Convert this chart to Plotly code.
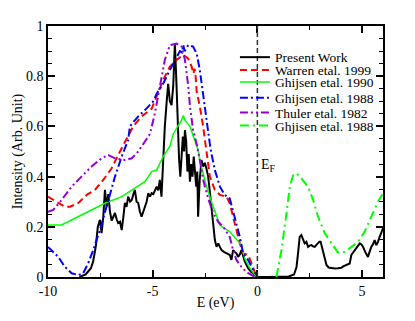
import plotly.graph_objects as go

# Present Work
pw_x = [-10, -8.5, -8.2, -7.95, -7.85, -7.72, -7.62, -7.52, -7.44, -7.36, -7.28, -7.2, -7.12, -7.04,
        -6.96, -6.88, -6.8, -6.72, -6.65, -6.56, -6.48, -6.4, -6.33, -6.25, -6.17, -6.08, -6.0,
        -5.92, -5.85, -5.77, -5.69, -5.61, -5.53, -5.45, -5.37, -5.29, -5.21, -5.13, -5.05, -4.97,
        -4.89, -4.81, -4.73, -4.66, -4.58, -4.52, -4.48, -4.42, -4.34, -4.26, -4.18, -4.1, -4.02,
        -3.94, -3.86, -3.8, -3.74, -3.68, -3.62, -3.56, -3.5, -3.46, -3.4, -3.34, -3.28, -3.22,
        -3.16, -3.1, -3.04, -2.98, -2.92, -2.87, -2.83, -2.76, -2.67, -2.59, -2.51, -2.43, -2.35,
        -2.27, -2.19, -2.11, -2.03, -1.95, -1.87, -1.79, -1.71, -1.6, -1.47, -1.32, -1.24, -1.16,
        -1.08, -1.0, -0.92, -0.84, -0.76, -0.68, -0.6, -0.44, -0.3, -0.2, -0.04, 0.5, 1.0, 1.5,
        1.75, 1.87, 1.95, 2.02, 2.1, 2.18, 2.26, 2.34, 2.42, 2.5, 2.58, 2.66, 2.74, 2.82, 2.9,
        2.96, 3.02, 3.08, 3.13, 3.2, 3.3, 3.4, 3.53, 3.7, 3.85, 4.01, 4.1, 4.25, 4.41, 4.49, 4.6,
        4.73, 4.81, 4.89, 4.97, 5.05, 5.15, 5.28, 5.36, 5.44, 5.52, 5.6, 5.68, 5.76, 5.84, 5.92, 6.0]
pw_y = [None, 0.0, 0.01, 0.035, 0.06, 0.12, 0.2, 0.228, 0.175, 0.24, 0.347, 0.28, 0.33, 0.26,
        0.225, 0.24, 0.255, 0.23, 0.215, 0.22, 0.187, 0.24, 0.295, 0.28, 0.32, 0.3, 0.307,
        0.33, 0.347, 0.3, 0.295, 0.26, 0.24, 0.26, 0.28, 0.3, 0.334, 0.32, 0.334, 0.33,
        0.345, 0.36, 0.345, 0.387, 0.32, 0.42, 0.52, 0.6, 0.69, 0.77, 0.70, 0.685, 0.76,
        0.93, 0.76, 0.6, 0.47, 0.40, 0.5, 0.56, 0.50, 0.585, 0.54, 0.42, 0.49, 0.38,
        0.45, 0.40, 0.48, 0.42, 0.36, 0.42, 0.24, 0.38, 0.466, 0.44, 0.455, 0.43, 0.40,
        0.34, 0.28, 0.2, 0.147, 0.12, 0.134, 0.12, 0.107, 0.1, 0.094, 0.088, 0.068, 0.107,
        0.1, 0.094, 0.08, 0.09, 0.107, 0.085, 0.061, 0.035, 0.02, 0.015, 0.0, 0.0, 0.0, 0.002,
        0.01, 0.04, 0.1, 0.16, 0.167, 0.15, 0.134, 0.14, 0.12, 0.125, 0.127, 0.122, 0.12, 0.128, 0.134,
        0.14, 0.14, 0.12, 0.094, 0.07, 0.048, 0.038, 0.035, 0.034, 0.035, 0.037, 0.042, 0.048, 0.054, 0.088, 0.1,
        0.114, 0.125, 0.134, 0.13, 0.12, 0.1, 0.08, 0.1, 0.12, 0.13, 0.147, 0.127, 0.14, 0.16, 0.175, 0.194]

# Warren etal. 1999
w99_x = [-10, -9.6, -9.19, -8.95, -8.55, -8.15, -7.76, -7.36, -6.96, -6.65, -6.25, -5.93, -5.53,
         -5.05, -4.81, -4.5, -4.18, -3.86, -3.54, -3.3, -3.14, -3.05, -3.0, -2.95, -2.9, -2.75,
         -2.59, -2.43, -2.27, -2.03, -1.79, -1.47, -1.32, -1.16, -1.0, -0.84, -0.68, -0.44,
         -0.28, -0.12, -0.04]
w99_y = [0.32, 0.3, 0.28, 0.28, 0.295, 0.327, 0.347, 0.387, 0.433, 0.486, 0.546, 0.6, 0.64,
         0.67, 0.72, 0.785, 0.838, 0.865, 0.885, 0.87, 0.838, 0.81, 0.83, 0.80, 0.74, 0.68,
         0.6, 0.5, 0.4, 0.347, 0.327, 0.32, 0.294, 0.24, 0.187, 0.134, 0.094, 0.088,
         0.055, 0.02, 0.0]

# Ghijsen etal. 1990
g90_x = [-10, -9.35, -8.71, -8.08, -7.28, -6.48, -5.37, -5.05, -4.81, -4.5, -4.18, -4.02,
         -3.78, -3.62, -3.54, -3.46, -3.22, -2.99, -2.83, -2.75, -2.59, -2.43, -2.11, -1.79,
         -1.32, -0.76, -0.6, -0.36, -0.12, 0.0]
g90_y = [0.207, 0.207, 0.234, 0.26, 0.294, 0.32, 0.38, 0.42, 0.426, 0.48, 0.52, 0.57,
         0.6, 0.625, 0.643, 0.625, 0.6, 0.546, 0.506, 0.466, 0.413, 0.36, 0.28, 0.207,
         0.18, 0.127, 0.074, 0.035, 0.008, 0.0]

# Ghijsen etal. 1988 (occupied)
g88_x = [-10, -9.51, -9.19, -8.87, -8.55, -8.32, -8.08, -7.84, -7.52, -7.2, -6.8, -6.48,
         -6.17, -6.09, -5.69, -5.37, -4.97, -4.81, -4.5, -4.18, -3.94, -3.7, -3.6, -3.54,
         -3.48, -3.3, -3.07, -2.9, -2.75, -2.59, -2.43, -2.27, -2.19, -2.03, -1.79, -1.56,
         -1.32, -1.08, -0.84, -0.68, -0.44, -0.2, -0.04]
g88_y = [0.12, 0.08, 0.04, 0.015, 0.008, 0.015, 0.055, 0.107, 0.187, 0.28, 0.4, 0.48,
         0.546, 0.6, 0.64, 0.665, 0.7, 0.73, 0.77, 0.825, 0.865, 0.9, 0.895, 0.925,
         0.9, 0.924, 0.918, 0.89, 0.825, 0.72, 0.625, 0.53, 0.49, 0.426, 0.36, 0.327,
         0.313, 0.24, 0.16, 0.094, 0.068, 0.028, 0.008]

# Thuler etal. 1982
t82_x = [-10, -9.75, -9.35, -8.87, -8.4, -7.92, -7.44, -7.12, -6.8, -6.33, -6.0, -5.69,
         -5.37, -5.13, -4.9, -4.66, -4.42, -4.18, -3.86, -3.62, -3.46, -3.3, -3.22, -3.07,
         -2.9, -2.75, -2.59, -2.35, -2.11, -1.87, -1.63, -1.32, -1.16, -1.0, -0.76, -0.52,
         -0.28, -0.12]
t82_y = [0.26, 0.267, 0.307, 0.36, 0.4, 0.44, 0.473, 0.486, 0.473, 0.466, 0.473, 0.5,
         0.54, 0.57, 0.65, 0.76, 0.865, 0.924, 0.93, 0.918, 0.865, 0.76, 0.68, 0.585,
         0.53, 0.466, 0.387, 0.313, 0.254, 0.22, 0.2, 0.16, 0.107, 0.068, 0.04, 0.02,
         0.008, 0.0]

# Ghijsen etal. 1988 (unoccupied)
g88u_x = [0.91, 1.15, 1.39, 1.55, 1.71, 1.87, 2.1, 2.42, 2.66, 2.9, 3.22, 3.53, 3.85,
          4.17, 4.49, 4.81, 5.12, 5.44, 5.76, 6.0]
g88u_y = [0.0, 0.107, 0.254, 0.36, 0.406, 0.413, 0.393, 0.36, 0.307, 0.24, 0.174, 0.134, 0.097,
          0.1, 0.12, 0.14, 0.18, 0.24, 0.3, 0.334]

x_ticks = [-10, -5, 0, 5]
x_labels = ["-10", "-5", "0", "5"]
y_ticks = [0, 0.2, 0.4, 0.6, 0.8, 1]
y_labels = ["0", "0.2", "0.4", "0.6", "0.8", "1"]

serif = "Liberation Serif"
violet = "#9400d3"
green = "#00ff00"

# one legend per entry so the rows sit as tight as in the original
series = [
    ("Present Work", pw_x, pw_y, dict(color="black", width=2)),
    ("Warren etal. 1999", w99_x, w99_y, dict(color="red", width=2, dash="7px,4px")),
    ("Ghijsen etal. 1990", g90_x, g90_y, dict(color=green, width=1.5)),
    ("Ghijsen etal. 1988", g88_x, g88_y, dict(color="blue", width=2, dash="8px,3px,2px,3px")),
    ("Thuler etal. 1982", t82_x, t82_y, dict(color=violet, width=2, dash="8px,3px,2px,3px,2px,3px")),
    ("Ghjisen etal. 1988", g88u_x, g88u_y, dict(color=green, width=2, dash="9px,4px,2px,4px")),
]
legend_rows = [0.875, 0.824, 0.776, 0.713, 0.654, 0.603]

fig = go.Figure()
legends = {}
for i, (name, xs, ys, line) in enumerate(series):
    key = "legend" if i == 0 else f"legend{i + 1}"
    fig.add_trace(go.Scatter(x=xs, y=ys, mode="lines", name=name, line=line,
                             legend=key, showlegend=True))
    legends[key] = dict(x=0.558, y=legend_rows[i], xanchor="left", yanchor="middle",
                        bgcolor="rgba(0,0,0,0)", borderwidth=0,
                        font=dict(family=serif, size=13.5, color="black"))

# Fermi level
fig.add_vline(x=0, line=dict(color="#333333", width=1.5, dash="5px,3px"))
fig.add_annotation(x=0.06, y=0.445, xref="x", yref="y", xanchor="left", yanchor="middle",
                   text="E<sub>F</sub>", showarrow=False,
                   font=dict(family=serif, size=14, color="black"))

axis_common = dict(showline=True, linecolor="black", linewidth=1.5, mirror="allticks",
                   ticks="inside", ticklen=7, tickwidth=1.5, tickcolor="black",
                   showgrid=False, zeroline=False, automargin=False,
                   tickfont=dict(family=serif, size=14, color="black"))

fig.update_xaxes(range=[-10, 6], tickvals=x_ticks, ticktext=x_labels,
                 minor=dict(dtick=2.5, tick0=0, ticks="inside", ticklen=4, tickwidth=1, tickcolor="black"),
                 title=dict(text="E (eV)", font=dict(family=serif, size=14, color="black"), standoff=0),
                 **axis_common)
fig.update_yaxes(range=[0, 1], tickvals=y_ticks, ticktext=y_labels,
                 minor=dict(dtick=0.05, tick0=0, ticks="inside", ticklen=4, tickwidth=1, tickcolor="black"),
                 title=dict(text="Intensity (Arb. Unit)", font=dict(family=serif, size=14, color="black"), standoff=0),
                 **axis_common)

# the page body adds an 8px offset, so margins are shifted to keep the plot box in place
fig.update_layout(
    width=415, height=321,
    margin=dict(l=40, r=40, t=18, b=52),
    plot_bgcolor="white", paper_bgcolor="white",
    font=dict(family=serif, color="black"),
    showlegend=True,
    **legends,
)

fig.write_html("out.html")
